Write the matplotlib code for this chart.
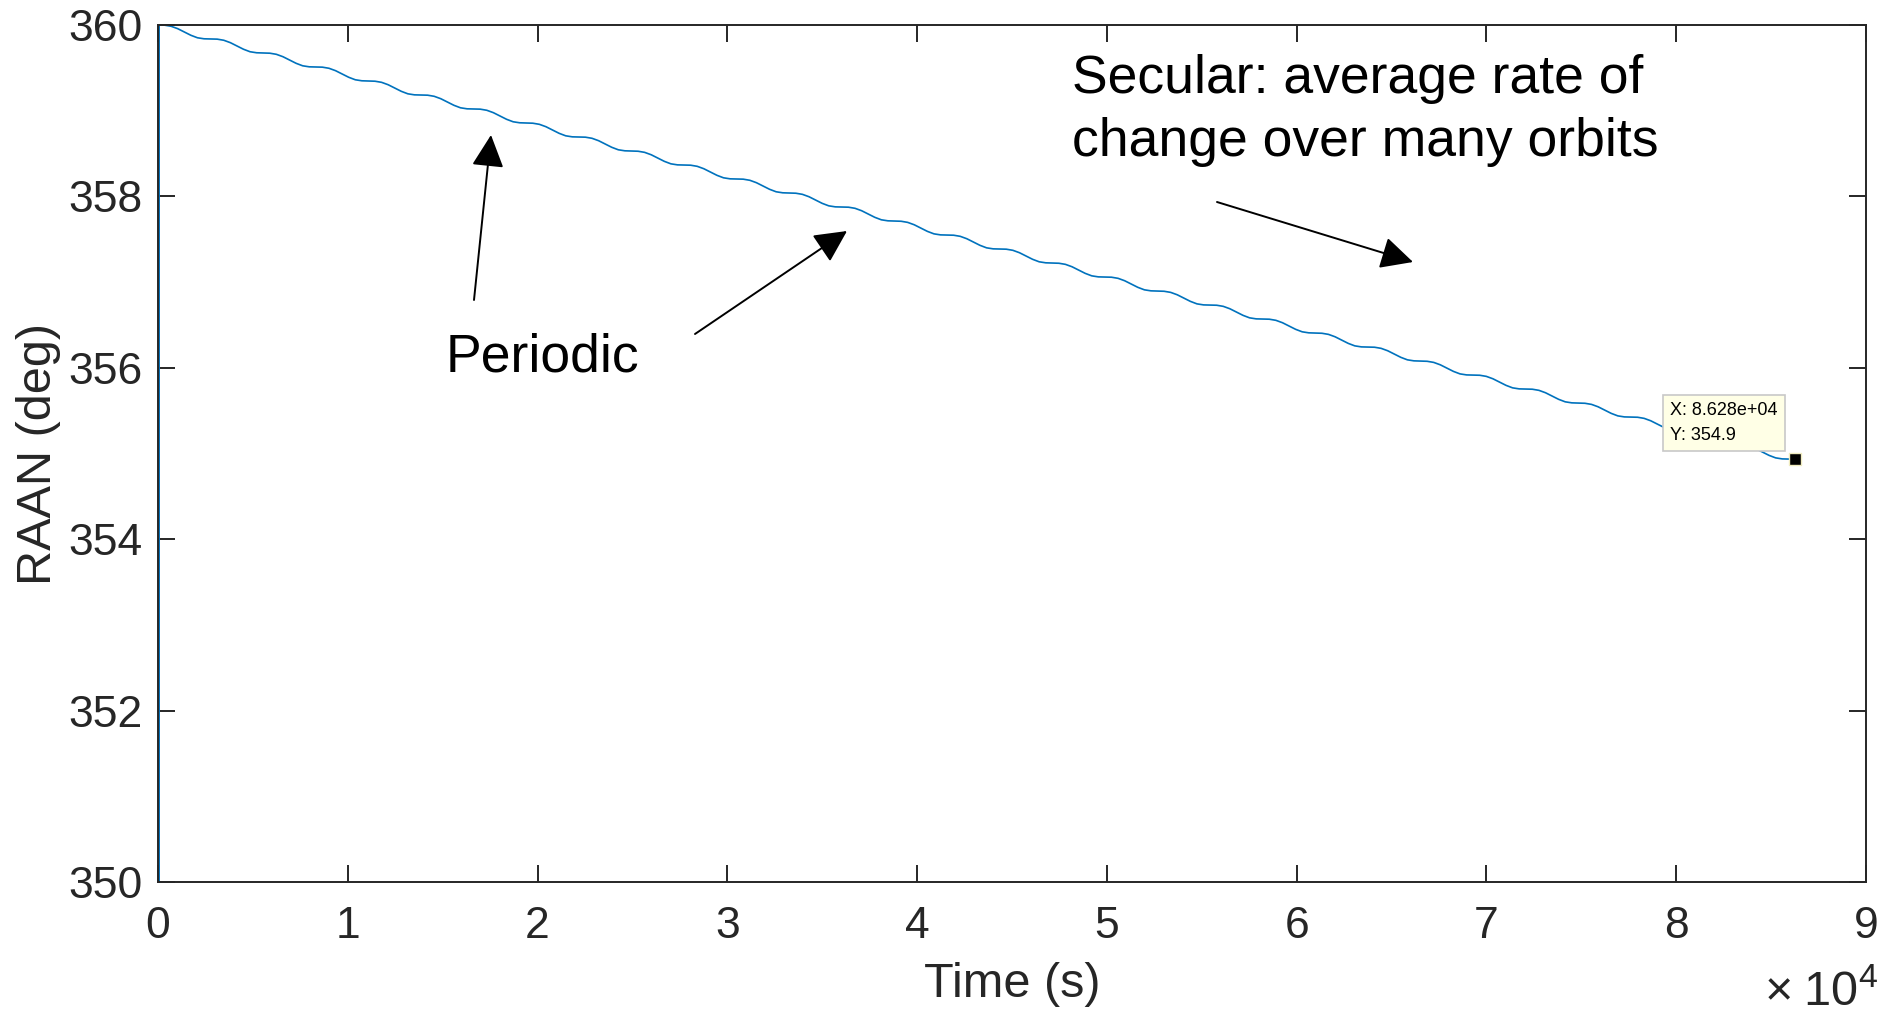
import matplotlib
matplotlib.use("Agg")
import matplotlib.pyplot as plt

plt.rcParams['font.family'] = ['Liberation Sans', 'DejaVu Sans']
plt.rcParams['mathtext.fontset'] = 'custom'
plt.rcParams['mathtext.rm'] = 'Liberation Sans'
plt.rcParams['mathtext.it'] = 'Liberation Sans:italic'
plt.rcParams['mathtext.bf'] = 'Liberation Sans:bold'

# time samples (s) and RAAN (deg)
time_s = [
    60,
    60, 347, 693, 1040, 1386, 1733, 2079, 2426,
    2772, 3119, 3465, 3812, 4158, 4505, 4851, 5198,
    5544, 5891, 6237, 6584, 6930, 7277, 7623, 7970,
    8316, 8663, 9009, 9356, 9702, 10049, 10395, 10742,
    11088, 11435, 11781, 12128, 12474, 12821, 13167, 13514,
    13860, 14207, 14553, 14900, 15246, 15593, 15939, 16286,
    16632, 16979, 17325, 17672, 18018, 18365, 18711, 19058,
    19404, 19751, 20097, 20444, 20790, 21137, 21483, 21830,
    22176, 22523, 22869, 23216, 23562, 23909, 24255, 24602,
    24948, 25295, 25641, 25988, 26334, 26681, 27027, 27374,
    27720, 28067, 28413, 28760, 29106, 29453, 29799, 30146,
    30492, 30839, 31185, 31532, 31878, 32225, 32571, 32918,
    33264, 33611, 33957, 34304, 34650, 34997, 35343, 35690,
    36036, 36383, 36729, 37076, 37422, 37769, 38115, 38462,
    38808, 39155, 39501, 39848, 40194, 40541, 40887, 41234,
    41580, 41927, 42273, 42620, 42966, 43313, 43659, 44006,
    44352, 44699, 45045, 45392, 45738, 46085, 46431, 46778,
    47124, 47471, 47817, 48164, 48510, 48857, 49203, 49550,
    49896, 50243, 50589, 50936, 51282, 51629, 51975, 52322,
    52668, 53015, 53361, 53708, 54054, 54401, 54747, 55094,
    55440, 55787, 56133, 56480, 56826, 57173, 57519, 57866,
    58212, 58559, 58905, 59252, 59598, 59945, 60291, 60638,
    60984, 61331, 61677, 62024, 62370, 62717, 63063, 63410,
    63756, 64103, 64449, 64796, 65142, 65489, 65835, 66182,
    66528, 66875, 67221, 67568, 67914, 68261, 68607, 68954,
    69300, 69647, 69993, 70340, 70686, 71033, 71379, 71726,
    72072, 72419, 72765, 73112, 73458, 73805, 74151, 74498,
    74844, 75191, 75537, 75884, 76230, 76577, 76923, 77270,
    77616, 77963, 78309, 78656, 79002, 79349, 79695, 80042,
    80388, 80735, 81081, 81428, 81774, 82121, 82467, 82814,
    83160, 83507, 83853, 84200, 84546, 84893, 85239, 85586,
    85932, 86280,
]
raan_deg = [
    0.0,
    360.000, 359.998, 359.985, 359.957, 359.918, 359.880, 359.851, 359.839,
    359.837, 359.835, 359.822, 359.794, 359.755, 359.717, 359.688, 359.676,
    359.673, 359.671, 359.658, 359.630, 359.591, 359.553, 359.524, 359.512,
    359.510, 359.508, 359.495, 359.467, 359.428, 359.390, 359.361, 359.349,
    359.346, 359.344, 359.331, 359.303, 359.264, 359.226, 359.197, 359.185,
    359.183, 359.181, 359.168, 359.140, 359.101, 359.063, 359.034, 359.022,
    359.020, 359.018, 359.005, 358.977, 358.938, 358.900, 358.871, 358.859,
    358.856, 358.854, 358.841, 358.813, 358.774, 358.736, 358.707, 358.695,
    358.693, 358.691, 358.678, 358.650, 358.611, 358.573, 358.544, 358.532,
    358.529, 358.527, 358.514, 358.486, 358.447, 358.409, 358.380, 358.368,
    358.366, 358.364, 358.351, 358.323, 358.284, 358.246, 358.217, 358.205,
    358.203, 358.201, 358.188, 358.160, 358.121, 358.083, 358.054, 358.042,
    358.039, 358.037, 358.024, 357.996, 357.957, 357.919, 357.890, 357.878,
    357.876, 357.874, 357.861, 357.833, 357.794, 357.756, 357.727, 357.715,
    357.712, 357.710, 357.697, 357.669, 357.630, 357.592, 357.563, 357.551,
    357.549, 357.547, 357.534, 357.506, 357.467, 357.429, 357.400, 357.388,
    357.386, 357.384, 357.371, 357.343, 357.304, 357.266, 357.237, 357.225,
    357.222, 357.220, 357.207, 357.179, 357.140, 357.102, 357.073, 357.061,
    357.059, 357.057, 357.044, 357.016, 356.977, 356.939, 356.910, 356.898,
    356.895, 356.893, 356.880, 356.852, 356.813, 356.775, 356.746, 356.734,
    356.732, 356.730, 356.717, 356.689, 356.650, 356.612, 356.583, 356.571,
    356.569, 356.567, 356.554, 356.526, 356.487, 356.449, 356.420, 356.408,
    356.405, 356.403, 356.390, 356.362, 356.323, 356.285, 356.256, 356.244,
    356.242, 356.240, 356.227, 356.199, 356.160, 356.122, 356.093, 356.081,
    356.078, 356.076, 356.063, 356.035, 355.996, 355.958, 355.929, 355.917,
    355.915, 355.913, 355.900, 355.872, 355.833, 355.795, 355.766, 355.754,
    355.752, 355.750, 355.737, 355.709, 355.670, 355.632, 355.603, 355.591,
    355.588, 355.586, 355.573, 355.545, 355.506, 355.468, 355.439, 355.427,
    355.425, 355.423, 355.410, 355.382, 355.343, 355.305, 355.276, 355.264,
    355.261, 355.259, 355.246, 355.218, 355.179, 355.141, 355.112, 355.100,
    355.098, 355.096, 355.083, 355.055, 355.016, 354.978, 354.949, 354.937,
    354.935, 354.933,
]

x_ticks = [0, 10000, 20000, 30000, 40000, 50000, 60000, 70000, 80000, 90000]
x_tick_labels = ['0', '1', '2', '3', '4', '5', '6', '7', '8', '9']
y_ticks = [350, 352, 354, 356, 358, 360]

# data tip sits on the last sample
tip_x = 86280
tip_y = 354.933
tip_label = 'X: 8.628e+04\nY: 354.9'

W, H = 1886, 1013
dark = '#262626'

fig = plt.figure(figsize=(W / 100, H / 100), dpi=100)
ax = fig.add_axes([158 / W, 1 - 882 / H, 1708 / W, 857 / H])

ax.plot(time_s, raan_deg, color='#0072BD', lw=1.2)
ax.set_xlim(0, 90000)
ax.set_ylim(350, 360)
ax.set_xticks(x_ticks)
ax.set_xticklabels(x_tick_labels)
ax.set_yticks(y_ticks)

ax.tick_params(direction='in', top=True, right=True, length=12, width=1.4,
               color=dark, labelcolor=dark, labelsize=32)
ax.tick_params(axis='x', pad=17)
ax.tick_params(axis='y', pad=11)
for s in ax.spines.values():
    s.set_linewidth(1.4)
    s.set_color(dark)

ax.set_xlabel('Time (s)', fontsize=35, color=dark)
ax.set_ylabel('RAAN (deg)', fontsize=35, color=dark)
ax.xaxis.set_label_coords(0.5, -0.093)
ax.yaxis.set_label_coords(-0.057, 0.5)

# x10^4 exponent label
fig.text(1878 / W, 1 - 1006 / H, r'$\times\;10^{4}$', fontsize=35, color=dark,
         ha='right', va='baseline')

# data tip
ax.plot([tip_x], [tip_y], marker='s', ms=9, color='black', mec='#f0ecc0',
        mew=1, zorder=5)
ax.annotate(tip_label, xy=(tip_x, tip_y), xytext=(-18, 15),
            textcoords='offset pixels', ha='right', va='bottom',
            multialignment='left', fontsize=13, color='black', linespacing=1.6,
            bbox=dict(boxstyle='square,pad=0.4', fc='#FFFFE6', ec='#C8C8C8', lw=1.2))

# text annotations
fig.text(446 / W, 1 - 371 / H, 'Periodic', fontsize=38.5, ha='left', va='baseline')
fig.text(1072 / W, 1 - 93 / H, 'Secular: average rate of', fontsize=38.5,
         ha='left', va='baseline')
fig.text(1072 / W, 1 - 156 / H, 'change over many orbits', fontsize=38.5,
         ha='left', va='baseline')

arrows = [((474, 300), (491, 135)),
          ((695, 334), (847, 231)),
          ((1217, 202), (1413, 262))]
for (x0, y0), (x1, y1) in arrows:
    fig.add_artist(matplotlib.patches.FancyArrowPatch(
        (x0 / W, 1 - y0 / H), (x1 / W, 1 - y1 / H), transform=fig.transFigure,
        arrowstyle='-|>,head_length=1.0,head_width=0.5', mutation_scale=20,
        color='black', lw=1.4, shrinkA=0, shrinkB=0))

fig.savefig('out.png', dpi=100)
